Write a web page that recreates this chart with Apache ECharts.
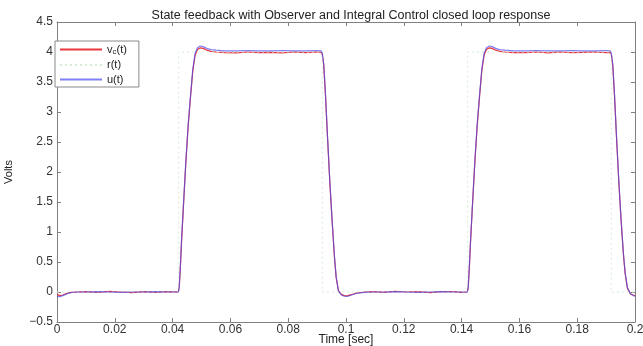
<!DOCTYPE html>
<html>
<head>
<meta charset="utf-8">
<script src="https://cdn.jsdelivr.net/npm/echarts@6/dist/echarts.min.js"></script>
<style>
  html, body { margin: 0; padding: 0; background: #fff; }
  #chart { width: 643px; height: 346px; }
</style>
</head>
<body>
<div id="chart"></div>
<script>
// Sample times [sec] shared by the capacitor voltage and control signal traces
const times = [
  0, 0.001, 0.002, 0.003, 0.004, 0.005, 0.007, 0.010, 0.014, 0.018, 0.022, 0.026, 0.030, 0.034, 0.038, 0.0420,
  0.0423, 0.0427, 0.0431, 0.0438, 0.0446, 0.0454, 0.0462, 0.0470, 0.0478, 0.0486, 0.0496, 0.0506, 0.0518, 0.0532, 0.0550, 0.0580,
  0.062, 0.066, 0.070, 0.074, 0.078, 0.082, 0.086, 0.090, 0.0914,
  0.0918, 0.0923, 0.0929, 0.0936, 0.0944, 0.0952, 0.0960, 0.0966, 0.0974, 0.0984, 0.0994, 0.1004, 0.1019, 0.1034, 0.1064, 0.1094,
  0.113, 0.117, 0.121, 0.125, 0.129, 0.133, 0.137, 0.140, 0.1420,
  0.1423, 0.1427, 0.1431, 0.1438, 0.1446, 0.1454, 0.1462, 0.1470, 0.1478, 0.1486, 0.1496, 0.1506, 0.1518, 0.1532, 0.1550, 0.1580,
  0.162, 0.166, 0.170, 0.174, 0.178, 0.182, 0.186, 0.190, 0.1914,
  0.1918, 0.1923, 0.1929, 0.1936, 0.1944, 0.1952, 0.1960, 0.1966, 0.1974, 0.1984, 0.1994, 0.2000
];

// v_c(t): capacitor voltage [V]
const vcValues = [
  -0.04, -0.06, -0.05, -0.03, -0.015, -0.005, 0, 0.005, -0.005, 0.01, 0, -0.01, 0.005, -0.005, 0.005, 0,
  0.08, 0.42, 0.84, 1.47, 2.17, 2.77, 3.25, 3.69, 3.95, 4.04, 4.07, 4.06, 4.03, 4.01, 4.0, 3.99,
  3.985, 4.0, 3.99, 3.995, 3.985, 4.0, 3.99, 4.0, 3.995,
  3.96, 3.78, 3.28, 2.58, 1.83, 1.18, 0.58, 0.24, 0.02, -0.04, -0.06, -0.065, -0.045, -0.02, 0, 0.005,
  -0.005, 0.01, 0, 0.005, -0.01, 0.005, 0.005, -0.005, 0,
  0.08, 0.42, 0.84, 1.47, 2.17, 2.77, 3.25, 3.69, 3.95, 4.04, 4.07, 4.06, 4.03, 4.01, 4.0, 3.99,
  3.99, 4.0, 3.985, 4.0, 3.99, 3.995, 4.0, 3.99, 3.995,
  3.96, 3.78, 3.28, 2.58, 1.83, 1.18, 0.62, 0.3, 0.06, -0.03, -0.05, -0.06
];

// u(t): control input [V]
const uValues = [
  -0.07, -0.08, -0.06, -0.04, -0.02, -0.008, 0, 0, 0.005, 0, -0.005, 0, 0, 0.005, 0, 0,
  0.1, 0.45, 0.87, 1.5, 2.2, 2.8, 3.28, 3.72, 3.98, 4.07, 4.10, 4.09, 4.06, 4.04, 4.03, 4.02,
  4.02, 4.025, 4.02, 4.02, 4.025, 4.02, 4.02, 4.025, 4.02,
  3.98, 3.8, 3.3, 2.6, 1.85, 1.2, 0.6, 0.25, 0.02, -0.05, -0.07, -0.075, -0.05, -0.025, -0.005, 0,
  0, 0.005, 0, -0.005, 0, 0.005, 0, 0, 0,
  0.1, 0.45, 0.87, 1.5, 2.2, 2.8, 3.28, 3.72, 3.98, 4.07, 4.10, 4.09, 4.06, 4.04, 4.03, 4.02,
  4.02, 4.025, 4.02, 4.02, 4.025, 4.02, 4.02, 4.025, 4.02,
  3.98, 3.8, 3.3, 2.6, 1.85, 1.2, 0.64, 0.32, 0.07, -0.03, -0.06, -0.07
];

// r(t): square-wave reference [V]
const refTimes = [0, 0.0421, 0.0421, 0.0918, 0.0918, 0.1421, 0.1421, 0.1918, 0.1918, 0.2];
const refValues = [0, 0, 4, 4, 0, 0, 4, 4, 0, 0];

const seriesNames = ['vc(t)', 'r(t)', 'u(t)'];
const chartTitle = 'State feedback with Observer and Integral Control closed loop response';
const xTitle = 'Time [sec]';
const yTitle = 'Volts';

const pairs = (xs, ys) => xs.map((x, i) => [x, ys[i]]);
const FONT = 'Helvetica, "Liberation Sans", Arial, sans-serif';
const fmt = v => {
  const s = String(parseFloat(v.toFixed(3)));
  return s.replace('-', '\u2212');
};

const chart = echarts.init(document.getElementById('chart'), null, { renderer: 'canvas' });

const axisCommon = {
  type: 'value',
  axisLine: { show: true, onZero: false, lineStyle: { color: '#808080', width: 1 } },
  axisTick: { show: true, inside: true, length: 4, lineStyle: { color: '#808080' } },
  splitLine: { show: false },
  axisLabel: { color: '#333', fontFamily: FONT, fontSize: 12, formatter: fmt }
};

chart.setOption({
  animation: false,
  backgroundColor: '#fff',
  title: {
    text: chartTitle,
    left: 346, top: 4, textAlign: 'center',
    textStyle: { fontFamily: FONT, fontSize: 12.5, fontWeight: 'normal', color: '#222' }
  },
  grid: { left: 57, right: 8, top: 22, bottom: 24, containLabel: false, outerBoundsMode: 'none' },
  legend: {
    orient: 'vertical',
    left: 55, top: 41,
    data: seriesNames,
    backgroundColor: '#fff',
    borderColor: '#8a8a8a', borderWidth: 1,
    padding: [3, 12, 2, 4],
    itemWidth: 42, itemHeight: 10, itemGap: 3.5,
    itemStyle: { opacity: 0 },
    formatter: name => name === 'vc(t)' ? '{a|v}{s|c}{a|(t)}' : '{a|' + name + '}',
    textStyle: {
      fontFamily: FONT, fontSize: 11, color: '#222',
      rich: {
        a: { fontFamily: FONT, fontSize: 11, color: '#222' },
        s: { fontFamily: FONT, fontSize: 8, color: '#222', verticalAlign: 'bottom', padding: [5, 0, 0, 0] }
      }
    }
  },
  xAxis: [
    Object.assign({}, axisCommon, {
      min: 0, max: 0.2, interval: 0.02, position: 'bottom',
      name: xTitle, nameLocation: 'middle', nameGap: 12, nameMoveOverlap: false,
      nameTextStyle: { fontFamily: FONT, fontSize: 12, color: '#222' },
      axisLabel: Object.assign({}, axisCommon.axisLabel, { margin: 2 })
    }),
    Object.assign({}, axisCommon, {
      min: 0, max: 0.2, interval: 0.02, position: 'top',
      axisLabel: { show: false }
    })
  ],
  yAxis: [
    Object.assign({}, axisCommon, {
      min: -0.5, max: 4.5, interval: 0.5, position: 'left',
      name: yTitle, nameLocation: 'middle', nameGap: 43, nameMoveOverlap: false,
      nameTextStyle: { fontFamily: FONT, fontSize: 11, color: '#222' },
      axisLabel: Object.assign({}, axisCommon.axisLabel, { margin: 4 })
    }),
    Object.assign({}, axisCommon, {
      min: -0.5, max: 4.5, interval: 0.5, position: 'right',
      axisLabel: { show: false }
    })
  ],
  series: [
    {
      name: 'vc(t)', type: 'line', xAxisIndex: 0, yAxisIndex: 0,
      data: pairs(times, vcValues), symbol: 'none',
      lineStyle: { color: '#e8383d', width: 1.2 },
      itemStyle: { color: '#e8383d' }
    },
    {
      name: 'r(t)', type: 'line', xAxisIndex: 0, yAxisIndex: 0,
      data: pairs(refTimes, refValues), symbol: 'none',
      lineStyle: { color: '#d6ecd6', width: 1, type: [2, 3] },
      itemStyle: { color: '#d6ecd6' }
    },
    {
      name: 'u(t)', type: 'line', xAxisIndex: 0, yAxisIndex: 0,
      data: pairs(times, uValues), symbol: 'none',
      lineStyle: { color: '#4a4cf0', width: 1.2, opacity: 0.7 },
      itemStyle: { color: '#4a4cf0' }
    }
  ]
});
</script>
</body>
</html>
